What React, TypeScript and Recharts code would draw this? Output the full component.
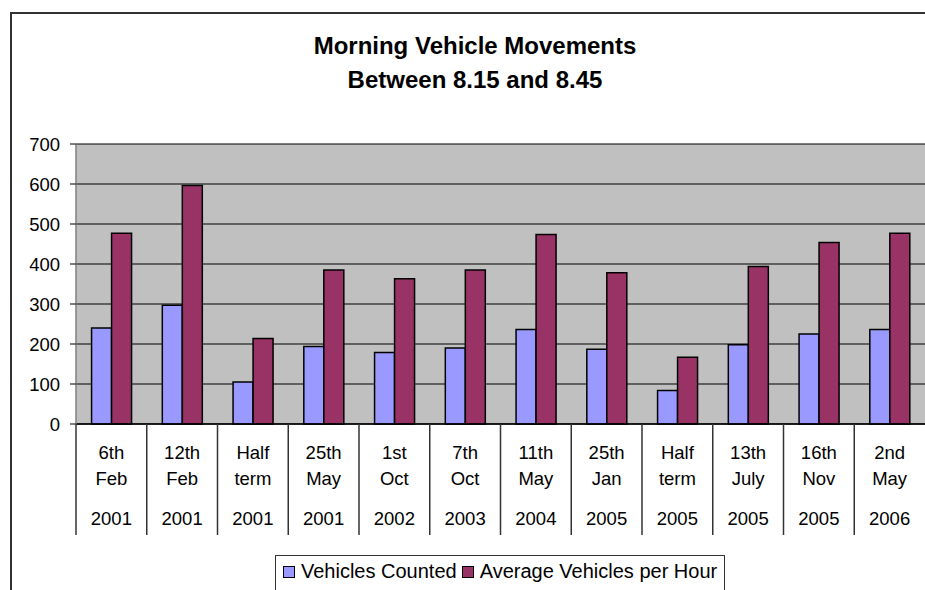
import React from 'react';
import { BarChart, Bar, XAxis, YAxis, CartesianGrid } from 'recharts';

const days = ['6th', '12th', 'Half', '25th', '1st', '7th', '11th', '25th', 'Half', '13th', '16th', '2nd'];
const months = ['Feb', 'Feb', 'term', 'May', 'Oct', 'Oct', 'May', 'Jan', 'term', 'July', 'Nov', 'May'];
const years = ['2001', '2001', '2001', '2001', '2002', '2003', '2004', '2005', '2005', '2005', '2005', '2006'];
const vehiclesCounted = [240, 297, 105, 194, 179, 190, 236, 187, 84, 198, 225, 236];
const averagePerHour = [477, 596, 214, 385, 363, 385, 474, 378, 167, 394, 454, 477];
const yTicks = [0, 100, 200, 300, 400, 500, 600, 700];

const series = [
  { key: 'counted', name: 'Vehicles Counted', color: '#9999FF' },
  { key: 'average', name: 'Average Vehicles per Hour', color: '#993366' },
];

const data = days.map((d, i) => ({
  label: `${d} ${months[i]} ${years[i]}`,
  counted: vehiclesCounted[i],
  average: averagePerHour[i],
}));

const FONT = '"Liberation Sans", Arial, sans-serif';

function CategoryTick(props: any) {
  const { x, y, payload, index } = props;
  const i = payload?.index ?? index;
  const half = payload?.offset || 35.4;
  return (
    <g>
      <line x1={x - half} x2={x - half} y1={y} y2={y + 111} stroke="#333" strokeWidth={1.5} />
      <text x={x} y={y + 35} textAnchor="middle" fontSize={18.5} fill="#000" fontFamily={FONT}>{days[i]}</text>
      <text x={x} y={y + 61} textAnchor="middle" fontSize={18.5} fill="#000" fontFamily={FONT}>{months[i]}</text>
      <text x={x} y={y + 101} textAnchor="middle" fontSize={18.5} fill="#000" fontFamily={FONT}>{years[i]}</text>
    </g>
  );
}

export default function App() {
  return (
    <div style={{ position: 'absolute', left: 0, top: 0, width: 925, height: 590, overflow: 'hidden', background: '#fff', fontFamily: FONT }}>
      <div style={{ position: 'absolute', left: 10, top: 12, width: 960, height: 640, borderLeft: '2px solid #333', borderTop: '2px solid #333' }} />
      <div style={{ position: 'absolute', left: 475, top: 29, transform: 'translateX(-50%)', textAlign: 'center', fontWeight: 'bold', fontSize: 24, lineHeight: '34px', whiteSpace: 'nowrap', color: '#000' }}>
        <div>Morning Vehicle Movements</div>
        <div>Between 8.15 and 8.45</div>
      </div>
      <BarChart width={925} height={590} data={data} margin={{ top: 144, right: 0, bottom: 0, left: 0 }} barGap={0} barCategoryGap="22%" style={{ position: 'absolute', left: 0, top: 0 }}>
        <CartesianGrid fill="#C0C0C0" vertical={false} stroke="#000" strokeWidth={1.2} />
        <XAxis dataKey="label" height={166} interval={0} tickSize={0} tickMargin={0} tick={<CategoryTick />} axisLine={{ stroke: '#000', strokeWidth: 1.5 }} />
        <YAxis width={76} domain={[0, 700]} ticks={yTicks} tickSize={6} tickMargin={10} interval={0} axisLine={{ stroke: '#808080', strokeWidth: 1.5 }} tickLine={{ stroke: '#000' }} tick={{ fill: '#000', fontSize: 18.5, fontFamily: FONT }} />
        {series.map((s) => (
          <Bar key={s.key} dataKey={s.key} name={s.name} fill={s.color} stroke="#000" strokeWidth={1.5} isAnimationActive={false} />
        ))}
      </BarChart>
      <div style={{ position: 'absolute', left: 275, top: 555, width: 450, height: 50, border: '1px solid #333', boxSizing: 'border-box', display: 'flex', alignItems: 'flex-start', paddingTop: 4, paddingLeft: 7, fontSize: 20, color: '#000', whiteSpace: 'nowrap' }}>
        {series.map((s) => (
          <div key={s.key} style={{ display: 'flex', alignItems: 'center', marginRight: 5 }}>
            <span style={{ display: 'inline-block', width: 10, height: 10, background: s.color, border: '1px solid #000', marginRight: 6 }} />
            <span>{s.name}</span>
          </div>
        ))}
      </div>
    </div>
  );
}
